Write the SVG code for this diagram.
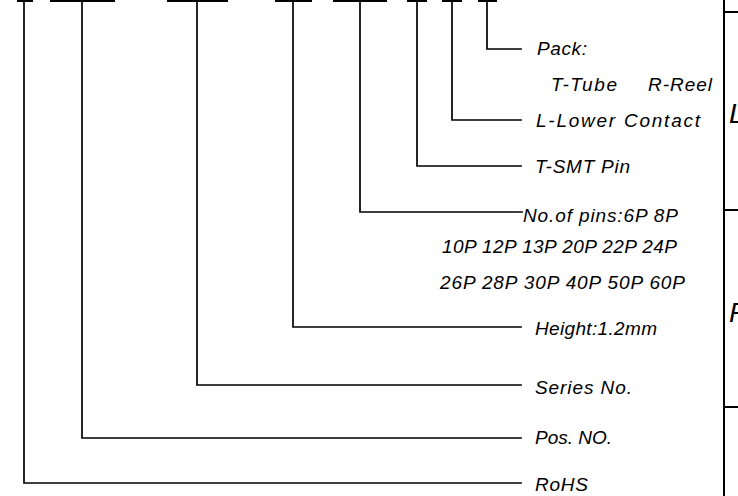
<svg xmlns="http://www.w3.org/2000/svg" width="738" height="496" viewBox="0 0 738 496">
<style>
.ln{fill:none;stroke:#000;stroke-width:1.7;stroke-linecap:square}
.bar{fill:#000}
.t{font-family:"Liberation Sans",Arial,sans-serif;font-style:italic;font-size:19px;fill:#000}
.big{font-family:"Liberation Sans",Arial,sans-serif;font-style:italic;font-size:28px;fill:#000}
</style>
<rect width="738" height="496" fill="#fff"/>
<g id="code-bars">
<rect class="bar" x="17" y="0" width="16" height="2"/>
<rect class="bar" x="50" y="0" width="65" height="2"/>
<rect class="bar" x="167" y="0" width="61" height="2"/>
<rect class="bar" x="275" y="0" width="37" height="2"/>
<rect class="bar" x="333" y="0" width="54" height="2"/>
<rect class="bar" x="407" y="0" width="20" height="2"/>
<rect class="bar" x="442" y="0" width="20" height="2"/>
<rect class="bar" x="478" y="0" width="19" height="2"/>
</g>
<g id="connectors">
<polyline class="ln" points="487,1 487,49 521,49"/>
<polyline class="ln" points="452,1 452,120 521,120"/>
<polyline class="ln" points="417,1 417,166 521,166"/>
<polyline class="ln" points="360,1 360,212 522,212"/>
<polyline class="ln" points="293,1 293,327 521,327"/>
<polyline class="ln" points="197,1 197,385 521,385"/>
<polyline class="ln" points="82,1 82,438 521,438"/>
<polyline class="ln" points="24,1 24,483 521,483"/>
</g>
<g id="frame">
<line class="ln" x1="724" y1="0" x2="724" y2="496" style="stroke-width:2"/>
<line class="ln" x1="724" y1="12" x2="738" y2="12" style="stroke-width:2"/>
<line class="ln" x1="724" y1="210" x2="738" y2="210" style="stroke-width:2"/>
<line class="ln" x1="724" y1="407" x2="738" y2="407" style="stroke-width:2"/>
<text class="big" x="729" y="123">L</text>
<text class="big" x="729" y="322">P</text>
</g>
<g id="pack"><text class="t" x="537" y="55" textLength="50" lengthAdjust="spacing">Pack:</text>
<text class="t" y="91"><tspan x="551" textLength="66" lengthAdjust="spacing">T-Tube</tspan><tspan x="648" textLength="64" lengthAdjust="spacing">R-Reel</tspan></text></g>
<g id="lower-contact"><text class="t" x="536" y="127" textLength="164" lengthAdjust="spacing">L-Lower Contact</text></g>
<g id="smt-pin"><text class="t" x="535" y="173" textLength="95" lengthAdjust="spacing">T-SMT Pin</text></g>
<g id="pins"><text class="t" x="523" y="222" textLength="155" lengthAdjust="spacing">No.of pins:6P 8P</text>
<text class="t" x="442" y="253" textLength="235" lengthAdjust="spacing">10P 12P 13P 20P 22P 24P</text>
<text class="t" x="440" y="289" textLength="245" lengthAdjust="spacing">26P 28P 30P 40P 50P 60P</text></g>
<g id="height"><text class="t" x="535" y="335" textLength="122" lengthAdjust="spacing">Height:1.2mm</text></g>
<g id="series"><text class="t" x="535" y="394" textLength="97" lengthAdjust="spacing">Series No.</text></g>
<g id="pos"><text class="t" x="535" y="444" textLength="77" lengthAdjust="spacing">Pos. NO.</text></g>
<g id="rohs"><text class="t" x="535" y="491" textLength="53" lengthAdjust="spacing">RoHS</text></g>
</svg>
